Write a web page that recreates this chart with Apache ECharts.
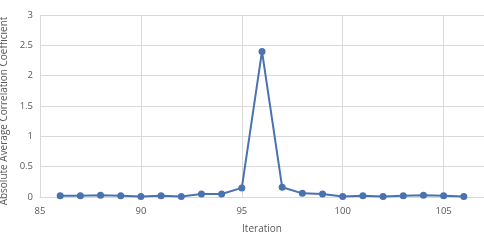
<!DOCTYPE html>
<html>
<head>
<meta charset="utf-8">
<script src="https://cdn.jsdelivr.net/npm/echarts@6/dist/echarts.min.js"></script>
<style>html,body{margin:0;padding:0;background:#fff}#c{width:484px;height:247px}</style>
</head>
<body>
<div id="c"></div>
<script>
var iterations = [86, 87, 88, 89, 90, 91, 92, 93, 94, 95, 96, 97, 98, 99, 100, 101, 102, 103, 104, 105, 106];
var coefficients = [0.02, 0.02, 0.03, 0.02, 0.01, 0.02, 0.01, 0.05, 0.05, 0.15, 2.40, 0.16, 0.06, 0.05, 0.01, 0.02, 0.01, 0.02, 0.03, 0.02, 0.01];
var xTicks = [85, 90, 95, 100, 105];
var yTicks = [0, 0.5, 1, 1.5, 2, 2.5, 3];

var chart = echarts.init(document.getElementById('c'), null, {renderer: 'canvas'});
var font = 'Open Sans, Liberation Sans, sans-serif';
chart.setOption({
  animation: false,
  grid: {left: 40, right: 0, top: 15, bottom: 50, containLabel: false, outerBoundsMode: 'none'},
  xAxis: {
    type: 'value', min: 85, max: 107, interval: 5,
    name: 'Iteration', nameLocation: 'middle', nameGap: 27,
    nameTextStyle: {color: '#595959', fontSize: 10, fontFamily: font},
    axisLine: {show: true, lineStyle: {color: '#d9d9d9', width: 1}},
    axisTick: {show: false},
    axisLabel: {color: '#595959', fontSize: 9.5, fontFamily: font, margin: 9,
      formatter: function (v) { return xTicks.indexOf(v) >= 0 ? String(v) : ''; }},
    splitLine: {show: true, lineStyle: {color: '#d9d9d9', width: 1}}
  },
  yAxis: {
    type: 'value', min: 0, max: 3, interval: 0.5,
    name: 'Absolute Average Correlation Coefficient', nameLocation: 'middle', nameGap: 31,
    nameTextStyle: {color: '#595959', fontSize: 10, fontFamily: font, padding: [0, 10, 0, 0]},
    axisLine: {show: false},
    axisTick: {show: false},
    axisLabel: {color: '#595959', fontSize: 9.5, fontFamily: font, margin: 7,
      formatter: function (v) { return yTicks.indexOf(v) >= 0 ? String(v) : ''; }},
    splitLine: {show: true, lineStyle: {color: '#d9d9d9', width: 1}}
  },
  series: [{
    type: 'line',
    data: iterations.map(function (x, i) { return [x, coefficients[i]]; }),
    symbol: 'circle', symbolSize: 7,
    lineStyle: {color: '#4a72b0', width: 2},
    itemStyle: {color: '#4a72b0'}
  }]
});
</script>
</body>
</html>
